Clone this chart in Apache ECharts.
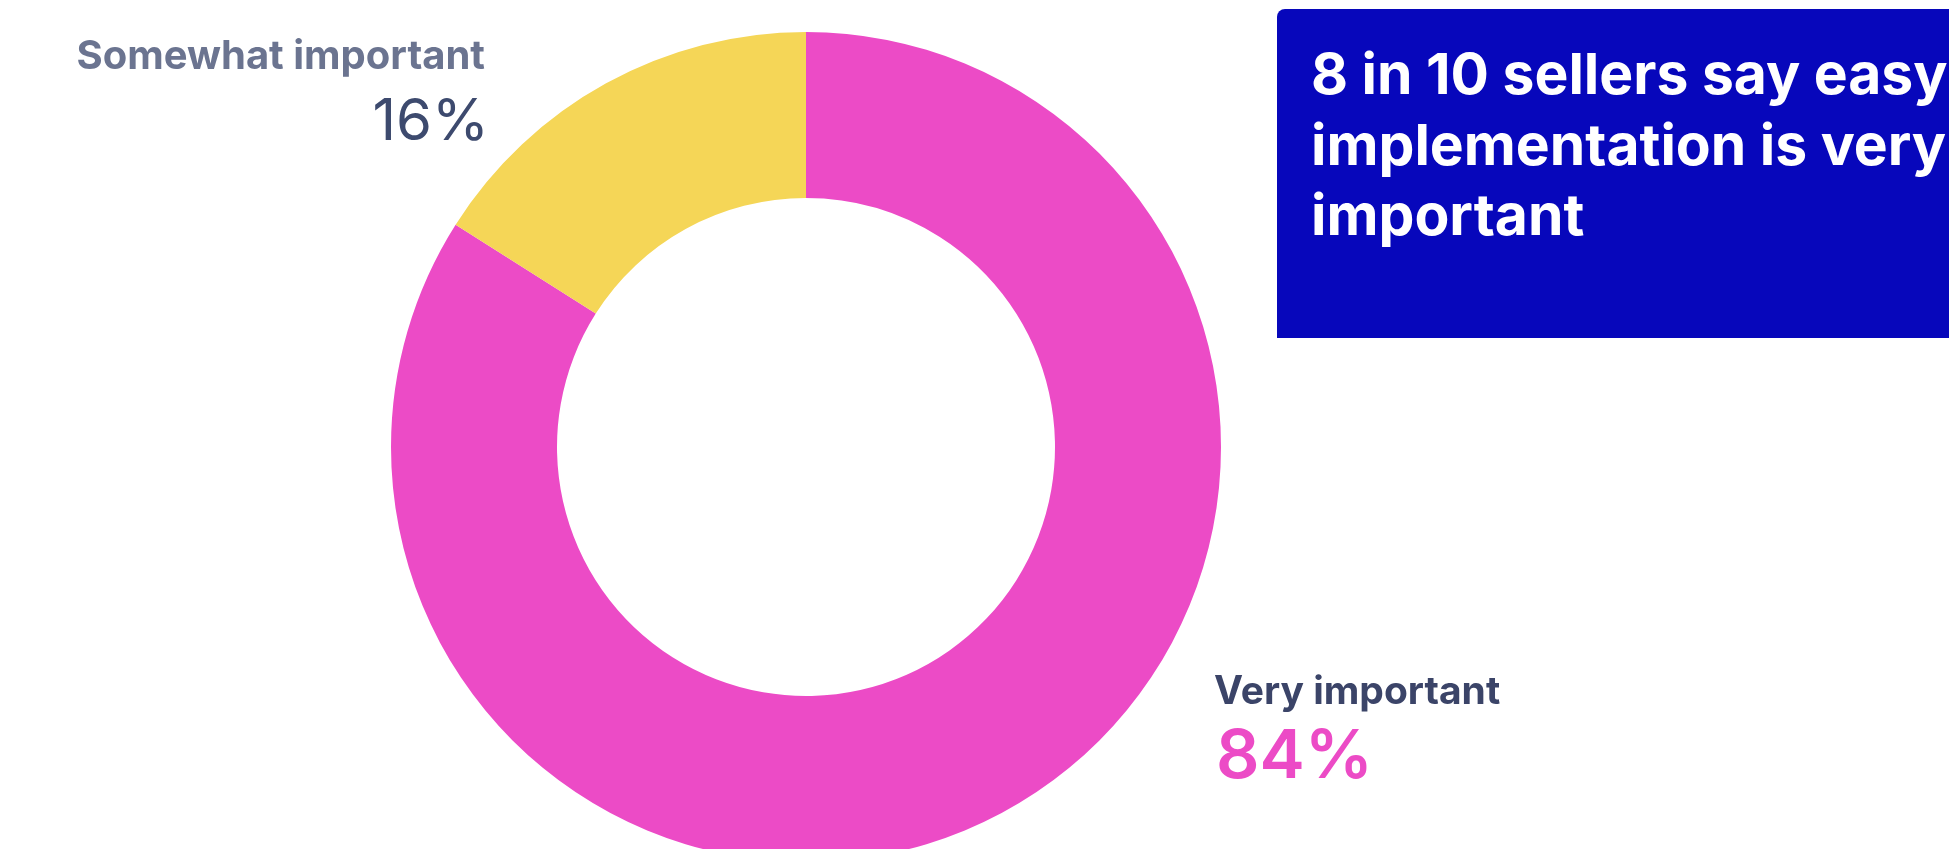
<!DOCTYPE html>
<html>
<head>
<meta charset="utf-8">
<script src="https://cdn.jsdelivr.net/npm/echarts@6/dist/echarts.min.js"></script>
<style>
html,body{margin:0;padding:0;background:#fff;}
#chart{width:1949px;height:849px;}
</style>
</head>
<body>
<div id="chart"></div>
<script>
const categories = ['Very important', 'Somewhat important'];
const values = [84, 16];
const colors = ['#EC4BC6', '#F5D657'];
const titleLines = ['8 in 10 sellers say easy', 'implementation is very', 'important'];

const chart = echarts.init(document.getElementById('chart'), null, {renderer: 'canvas'});
const FONT = 'Inter, "Noto Sans", sans-serif';

chart.setOption({
  animation: false,
  series: [{
    type: 'pie',
    center: [806, 447],
    radius: [249, 415],
    startAngle: 90,
    clockwise: true,
    silent: true,
    label: {show: false},
    labelLine: {show: false},
    data: categories.map((c, i) => ({name: c, value: values[i], itemStyle: {color: colors[i]}}))
  }],
  graphic: [
    {type: 'rect', shape: {x: 1277, y: 9, width: 700, height: 329, r: [8, 0, 0, 0]}, style: {fill: '#0707BB'}, z: 10},
    {type: 'text', x: 1311, y: 77, z: 11, style: {text: titleLines[0], fill: '#fff', font: 'bold 57px ' + FONT, verticalAlign: 'middle'}},
    {type: 'text', x: 1311, y: 148, z: 11, style: {text: titleLines[1], fill: '#fff', font: 'bold 57px ' + FONT, verticalAlign: 'middle'}},
    {type: 'text', x: 1311, y: 218, z: 11, style: {text: titleLines[2], fill: '#fff', font: 'bold 57px ' + FONT, verticalAlign: 'middle'}},
    {type: 'text', x: 485, y: 57, style: {text: categories[1], fill: '#6B7490', font: 'bold 40px ' + FONT, align: 'right', verticalAlign: 'middle'}},
    {type: 'text', x: 489, y: 123, style: {text: values[1] + '%', fill: '#3D4A6E', font: '400 58px ' + FONT, align: 'right', verticalAlign: 'middle'}},
    {type: 'text', x: 1214, y: 692, style: {text: categories[0], fill: '#3B4468', font: 'bold 39px ' + FONT, align: 'left', verticalAlign: 'middle'}},
    {type: 'text', x: 1216, y: 758, style: {text: values[0] + '%', fill: '#EC4BC6', font: '600 68px ' + FONT, align: 'left', verticalAlign: 'middle'}}
  ]
});
</script>
</body>
</html>
